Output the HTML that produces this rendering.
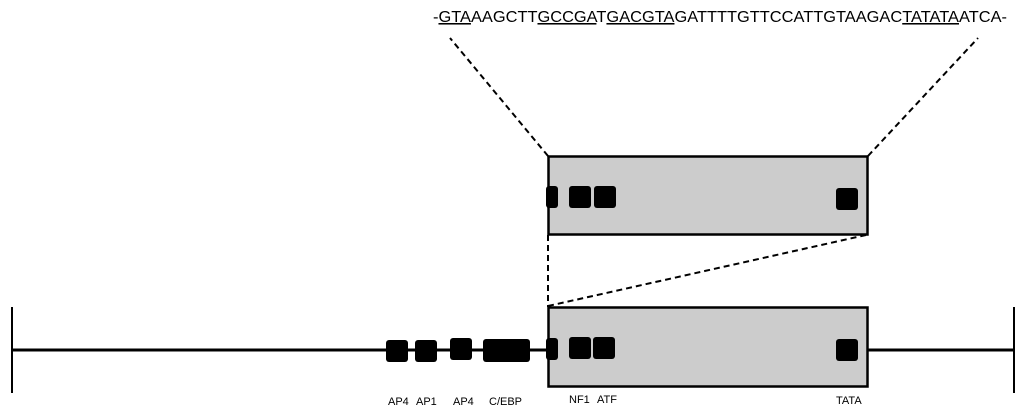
<!DOCTYPE html>
<html><head><meta charset="utf-8"><style>
html,body{margin:0;padding:0;background:#fff;}
svg{display:block;}
text{font-family:"Liberation Sans",Arial,sans-serif;fill:#000;}
</style></head><body>
<svg width="1024" height="417" viewBox="0 0 1024 417" xmlns="http://www.w3.org/2000/svg">
<text x="433" y="22" font-size="15.5" textLength="574" lengthAdjust="spacingAndGlyphs">-<tspan text-decoration="underline">GTA</tspan>AAGCTT<tspan text-decoration="underline">GCCGA</tspan>T<tspan text-decoration="underline">GACGTA</tspan>GATTTTGTTCCATTGTAAGAC<tspan text-decoration="underline">TATATA</tspan>ATCA-</text>
<g stroke="#000" stroke-width="2" stroke-dasharray="6,4" fill="none">
<line x1="548" y1="156" x2="450" y2="38"/>
<line x1="868" y1="156" x2="978" y2="38"/>
<line x1="548" y1="235" x2="548" y2="307"/>
<line x1="548" y1="306" x2="866" y2="235"/>
</g>
<line x1="12" y1="350" x2="1014" y2="350" stroke="#000" stroke-width="3"/>
<line x1="12" y1="307" x2="12" y2="393" stroke="#000" stroke-width="2"/>
<line x1="1014" y1="307" x2="1014" y2="393" stroke="#000" stroke-width="2"/>
<rect x="548.5" y="156.5" width="319" height="78" fill="#cccccc" stroke="#000" stroke-width="2.5"/>
<rect x="548.5" y="307.5" width="319" height="79" fill="#cccccc" stroke="#000" stroke-width="2.5"/>
<g fill="#000">
<rect x="546" y="186" width="12" height="22" rx="3"/>
<rect x="569" y="186" width="22" height="22" rx="3"/>
<rect x="594" y="186" width="22" height="22" rx="3"/>
<rect x="836" y="188" width="22" height="22" rx="3"/>
<rect x="386" y="340" width="22" height="22" rx="3"/>
<rect x="415" y="340" width="22" height="22" rx="3"/>
<rect x="450" y="338" width="22" height="22" rx="3"/>
<rect x="483" y="339" width="47" height="23" rx="3"/>
<rect x="546" y="338" width="12" height="22" rx="3"/>
<rect x="569" y="337" width="22" height="22" rx="3"/>
<rect x="593" y="337" width="22" height="22" rx="3"/>
<rect x="836" y="339" width="22" height="22" rx="3"/>
</g>
<g font-size="11">
<text x="388" y="405">AP4</text>
<text x="416" y="405">AP1</text>
<text x="453" y="405">AP4</text>
<text x="489" y="405">C/EBP</text>
<text x="569" y="403">NF1</text>
<text x="597" y="403">ATF</text>
<text x="836" y="404">TATA</text>
</g>
</svg>
</body></html>
